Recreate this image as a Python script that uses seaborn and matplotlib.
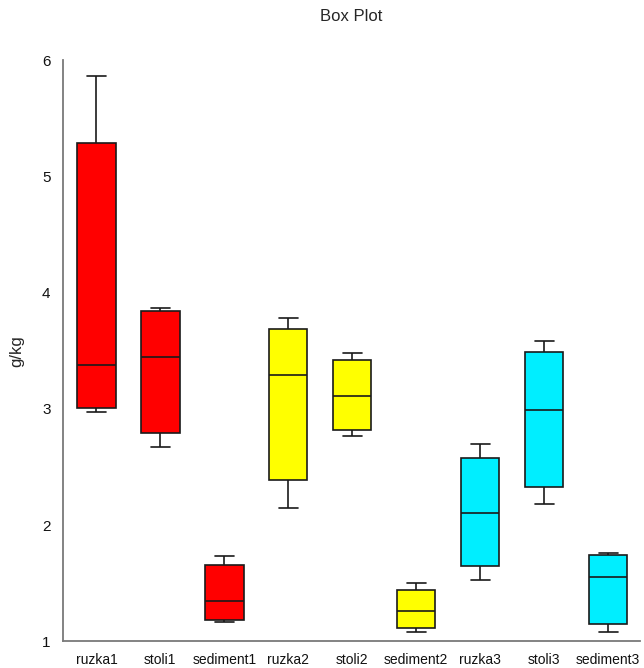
import numpy as np
import pandas as pd
import seaborn as sns
import matplotlib
matplotlib.use("Agg")
import matplotlib.pyplot as plt

# Sample groups and their five-number summaries (g/kg)
categories = ["ruzka1", "stoli1", "sediment1",
              "ruzka2", "stoli2", "sediment2",
              "ruzka3", "stoli3", "sediment3"]
minimum = [2.97, 2.67, 1.17, 2.15, 2.77, 1.08, 1.53, 2.18, 1.08]
lower_q = [3.01, 2.79, 1.18, 2.39, 2.82, 1.115, 1.65, 2.33, 1.146]
median = [3.38, 3.45, 1.35, 3.29, 3.11, 1.26, 2.10, 2.99, 1.55]
upper_q = [5.29, 3.84, 1.66, 3.69, 3.42, 1.445, 2.58, 3.49, 1.745]
maximum = [5.86, 3.87, 1.73, 3.78, 3.48, 1.50, 2.70, 3.58, 1.76]
box_colors = ["#FF0000", "#FF0000", "#FF0000",
              "#FFFF00", "#FFFF00", "#FFFF00",
              "#00EEFF", "#00EEFF", "#00EEFF"]

# Five observations per group reproduce the summary exactly
rows = []
for i, cat in enumerate(categories):
    for v in (minimum[i], lower_q[i], median[i], upper_q[i], maximum[i]):
        rows.append({"site": cat, "value": v})
df = pd.DataFrame(rows)

sns.set_style("white")
plt.rcParams["font.family"] = ["Liberation Sans", "DejaVu Sans"]

fig = plt.figure(figsize=(6.44, 6.68), dpi=100)
ax = fig.add_axes([0.098, 0.040, 0.896, 0.870])

sns.boxplot(data=df, x="site", y="value", hue="site", order=categories,
            hue_order=categories, palette=box_colors, legend=False,
            whis=(0, 100), width=0.6, linecolor="#1a1a1a", linewidth=1.2,
            saturation=1, showfliers=False, ax=ax)

ax.set_xlim(-0.52, 8.5)
ax.set_ylim(1, 6)
ax.set_yticks([1, 2, 3, 4, 5, 6])
ax.set_xlabel("")
ax.set_ylabel("g/kg", fontsize=12, labelpad=13)
ax.set_title("Box Plot", fontsize=12, pad=28)

for side in ("top", "right"):
    ax.spines[side].set_visible(False)
for side in ("left", "bottom"):
    ax.spines[side].set_color("#7a7a7a")
    ax.spines[side].set_linewidth(1.3)

ax.tick_params(axis="both", direction="out", length=5, width=1.2,
               color="#555555", labelsize=10, labelcolor="#111111")
ax.tick_params(axis="y", labelsize=11, pad=4)

fig.savefig("out.png", dpi=100)
